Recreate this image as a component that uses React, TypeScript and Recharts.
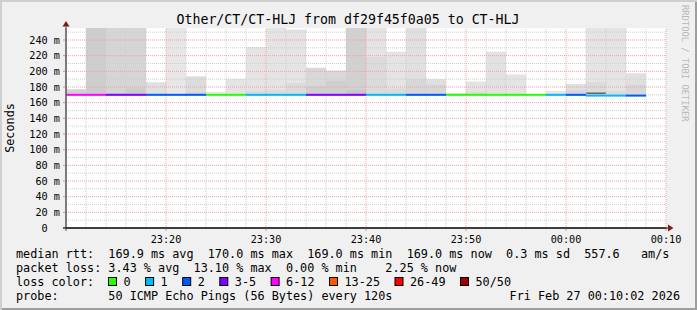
import React from "react";
import {
  ComposedChart,
  Bar,
  Cell,
  XAxis,
  YAxis,
  ReferenceLine,
  ReferenceArea,
  CartesianGrid,
} from "recharts";

// ---- data ----
const stepStart = [
  "23:10", "23:12", "23:14", "23:16", "23:18", "23:20", "23:22", "23:24", "23:26", "23:28",
  "23:30", "23:32", "23:34", "23:36", "23:38", "23:40", "23:42", "23:44", "23:46", "23:48",
  "23:50", "23:52", "23:54", "23:56", "23:58", "00:00", "00:02", "00:04", "00:06",
];
const axisEnd = "00:10";

// median rtt per step (ms)
const medianRtt = [
  170, 170, 170, 170, 170, 170, 170, 170, 170, 170,
  170, 170, 170, 170, 170, 170, 170, 170, 170, 170,
  170, 170, 170, 170, 170, 170, 169, 169, 169,
];
// packet loss per step (%)
const lossPct = [
  13.1, 12.5, 8.0, 6.0, 4.0, 3.5, 3.0, 0, 0, 2.0,
  1.5, 1.0, 8.0, 6.5, 9.0, 1.5, 2.0, 3.0, 2.5, 0,
  0, 0, 0, 0, 1.0, 3.0, 2.0, 1.0, 2.25,
];
// smoke: lowest / highest ping, top of dense inner band (ms)
const smokeMin = [
  169.5, 169.5, 169.5, 169.5, 169.5, 169.5, 169.5, 169.5, 169.5, 169.5,
  169.5, 169.5, 169.5, 169.5, 169.5, 169.5, 169.5, 169.5, 169.5, 169.5,
  169.5, 169.5, 169.5, 169.5, 168.5, 168.5, 168.5, 168.5, 168.5,
];
const smokeMax = [
  177, 300, 290, 285, 186, 270, 193.5, 174, 190.5, 231,
  262, 253.5, 204.5, 201, 295, 268, 225, 280, 190, 172.5,
  187, 225, 196, 170.3, 175, 184, 275, 265, 197.5,
];
const smokeInner: (number | null)[] = [
  null, null, 172, 178, null, null, 173, null, null, 175,
  176, 185, 181, 188, 176, 218, 178, 190, 183, null,
  174, null, null, null, null, 176, 186, 175, 183,
];
// relative density of the smoke (0..1) -> grey shade
const smokeDensity = [
  0.55, 0.6, 0.5, 0.5, 0.35, 0.25, 0.4, 0.25, 0.3, 0.3,
  0.3, 0.3, 0.45, 0.45, 0.55, 0.3, 0.3, 0.35, 0.35, 0.25,
  0.3, 0.32, 0.3, 0.3, 0.25, 0.35, 0.3, 0.3, 0.35,
];
// concentrated ping cluster
const coreLow: (number | null)[] = Array(29).fill(null).map((_, i) => (i === 26 ? 171 : null));
const coreHigh: (number | null)[] = Array(29).fill(null).map((_, i) => (i === 26 ? 173 : null));

const pingsPerStep = 50;
const xTickLabels = ["23:20", "23:30", "23:40", "23:50", "00:00", "00:10"];
const yTickValues = [0, 20, 40, 60, 80, 100, 120, 140, 160, 180, 200, 220, 240];
const yTickLabels = ["0", "20 m", "40 m", "60 m", "80 m", "100 m", "120 m", "140 m", "160 m", "180 m", "200 m", "220 m", "240 m"];
const yTop = 255.3;

const lossLabels = ["0", "1", "2", "3-5", "6-12", "13-25", "26-49", "50/50"];
const lossUpper = [0, 1, 2, 5, 12, 25, 49, 50];
const lossColors = ["#26ff00", "#00b8ff", "#0059ff", "#7e00ff", "#ff00ff", "#ff5500", "#ff0000", "#a10000"];

const title = "Other/CT/CT-HLJ from df29f45f0a05 to CT-HLJ";
const legendRtt = "median rtt:  169.9 ms avg  170.0 ms max  169.0 ms min  169.0 ms now  0.3 ms sd  557.6   am/s";
const legendLoss = "packet loss: 3.43 % avg  13.10 % max  0.00 % min    2.25 % now";
const legendLossColor = "loss color:";
const legendProbe = "probe:       50 ICMP Echo Pings (56 Bytes) every 120s";
const legendDate = "Fri Feb 27 00:10:02 2026";
const watermark = "RRDTOOL / TOBI OETIKER";
const unitLabel = "Seconds";

// ---- helpers ----
const toMin = (s: string) => {
  const [h, m] = s.split(":").map(Number);
  return h * 60 + m;
};
const origin = toMin(stepStart[0]);
const pos = (s: string) => (toMin(s) - origin + 1440) % 1440;
const step = pos(stepStart[1]) - pos(stepStart[0]);
const xEnd = pos(axisEnd);

const grey = (d: number) => {
  const v = Math.round(250 - 75 * Math.min(1, d));
  const h = v.toString(16).padStart(2, "0");
  return `#${h}${h}${h}`;
};
const lossColor = (pct: number) => {
  const n = (pct / 100) * pingsPerStep;
  const idx = lossUpper.findIndex((u) => n <= u);
  return lossColors[idx < 0 ? lossColors.length - 1 : idx];
};

const rows = stepStart.map((s, i) => ({
  t: pos(s) + step / 2,
  start: pos(s),
  end: pos(s) + step,
  lo: smokeMin[i],
  hi: smokeMax[i],
}));

const xTicks = xTickLabels.map(pos);
const xMinor: number[] = [];
for (let v = step; v < xEnd; v += step) if (!xTicks.includes(v)) xMinor.push(v);
const yMinor: number[] = [];
for (let v = 10; v < yTop; v += 20) yMinor.push(v);
const yMajor = yTickValues.filter((v) => v > 0);

const MONO = "'DejaVu Sans Mono', monospace";
const GRID_GREY = "#cdcdcd";
const GRID_RED = "#eba3a3";

export default function App() {
  // legend loss color layout
  let lx = 108;
  const lossItems = lossLabels.map((lab, i) => {
    const item = { lab, color: lossColors[i], bx: lx, tx: lx + 15.5 };
    lx = item.tx + 7.1 * lab.length + 14.5;
    return item;
  });

  return (
    <div
      style={{
        position: "absolute",
        left: 0,
        top: 0,
        width: 697,
        height: 310,
        background: "#f0f0f0",
        boxShadow: "inset 2px 2px 0 #cfcfcf, inset -2px -2px 0 #9e9e9e",
        overflow: "hidden",
      }}
    >
      <div style={{ position: "absolute", left: 0, top: 0 }}>
        <ComposedChart
          width={697}
          height={310}
          data={rows}
          margin={{ top: 28, right: 31, bottom: 62, left: 6 }}
          barCategoryGap={0}
          barGap={0}
        >
          <CartesianGrid horizontal={false} vertical={false} fill="#ffffff" stroke="none" />
          <XAxis
            dataKey="t"
            type="number"
            domain={[0, xEnd]}
            ticks={xTicks}
            interval={0}
            allowDataOverflow
            height={20}
            tickSize={3}
            tickMargin={5}
            axisLine={{ stroke: "#000000" }}
            tickLine={{ stroke: "#e08a8a" }}
            tick={{ fontFamily: MONO, fontSize: 10.2, fill: "#000" }}
            tickFormatter={(v: number) => xTickLabels[xTicks.indexOf(v)] ?? ""}
          />
          <YAxis
            type="number"
            domain={[0, yTop]}
            ticks={yTickValues}
            interval={0}
            allowDataOverflow
            width={60}
            tickSize={3}
            tickMargin={3}
            axisLine={{ stroke: "#555555" }}
            tickLine={{ stroke: "#e08a8a" }}
            tick={{ fontFamily: MONO, fontSize: 10.2, fill: "#000" }}
            tickFormatter={(v: number) => {
              const l = yTickLabels[yTickValues.indexOf(v)] ?? "";
              return l.includes(" ") ? l : l + "\u00a0\u00a0";
            }}
          />
          <Bar dataKey={(d: any) => [d.lo, d.hi]} isAnimationActive={false} zIndex={300}>
            {rows.map((_, i) => (
              <Cell key={i} fill={grey(smokeDensity[i])} />
            ))}
          </Bar>
          {rows.map((r, i) =>
            smokeInner[i] != null ? (
              <ReferenceArea
                key={"in" + i}
                x1={r.start}
                x2={r.end}
                y1={smokeMin[i]}
                y2={smokeInner[i] as number}
                fill={grey(smokeDensity[i] + 0.12)}
                fillOpacity={1}
                stroke="none"
                zIndex={310}
              />
            ) : null
          )}
          {rows.map((r, i) =>
            coreLow[i] != null ? (
              <ReferenceArea
                key={"core" + i}
                x1={r.start}
                x2={r.end}
                y1={coreLow[i] as number}
                y2={coreHigh[i] as number}
                fill="#666666"
                fillOpacity={1}
                stroke="none"
                zIndex={311}
              />
            ) : null
          )}
          {yMinor.map((v) => (
            <ReferenceLine key={"ym" + v} y={v} stroke={GRID_GREY} strokeDasharray="1 1" zIndex={320} />
          ))}
          {xMinor.map((v) => (
            <ReferenceLine key={"xm" + v} x={v} stroke={GRID_GREY} strokeDasharray="1 1" zIndex={320} />
          ))}
          {yMajor.map((v) => (
            <ReferenceLine key={"yM" + v} y={v} stroke={GRID_RED} strokeDasharray="1 1" zIndex={321} />
          ))}
          {xTicks.map((v) => (
            <ReferenceLine key={"xM" + v} x={v} stroke={GRID_RED} strokeDasharray="1 1" zIndex={321} />
          ))}
          {rows.map((r, i) => (
            <ReferenceLine
              key={"med" + i}
              segment={[
                { x: r.start, y: medianRtt[i] },
                { x: r.end, y: medianRtt[i] },
              ]}
              stroke={lossColor(lossPct[i])}
              strokeWidth={2}
              zIndex={330}
            />
          ))}
        </ComposedChart>
      </div>
      <svg
        width={697}
        height={310}
        style={{ position: "absolute", left: 0, top: 0, pointerEvents: "none" }}
        fontFamily={MONO}
      >
        <text x={348} y={24} textAnchor="middle" fontSize={13.25} fill="#000">
          {title}
        </text>
        <text
          x={684}
          y={5}
          fontSize={8.8}
          fill="#b8b8b8"
          transform="rotate(90 684 5)"
          dominantBaseline="middle"
        >
          {watermark}
        </text>
        <text
          x={14}
          y={128}
          fontSize={11.8}
          fill="#000"
          textAnchor="middle"
          transform="rotate(-90 14 128)"
        >
          {unitLabel}
        </text>
        {/* axis extensions and arrows */}
        <line x1={66} y1={231} x2={66} y2={24} stroke="#555555" strokeWidth={1} />
        <line x1={63} y1={228} x2={669} y2={228} stroke="#000000" strokeWidth={1} />
        <polygon points="62.5,26.5 69.5,26.5 66,21" fill="#7f1b1b" />
        <polygon points="668,224.5 668,231.5 673.5,228" fill="#7f1b1b" />
        <g fontSize={11.8} fill="#000">
          <text x={16} y={258} xmlSpace="preserve" style={{ whiteSpace: "pre" }}>
            {legendRtt}
          </text>
          <text x={16} y={272} xmlSpace="preserve" style={{ whiteSpace: "pre" }}>
            {legendLoss}
          </text>
          <text x={16} y={286} xmlSpace="preserve" style={{ whiteSpace: "pre" }}>
            {legendLossColor}
          </text>
          {lossItems.map((it) => (
            <g key={it.lab}>
              <rect x={it.bx + 0.5} y={277.5} width={8} height={8} fill={it.color} stroke="#000" strokeWidth={1} />
              <text x={it.tx} y={286}>
                {it.lab}
              </text>
            </g>
          ))}
          <text x={16} y={300} xmlSpace="preserve" style={{ whiteSpace: "pre" }}>
            {legendProbe}
          </text>
          <text x={680} y={300} textAnchor="end">
            {legendDate}
          </text>
        </g>
      </svg>
    </div>
  );
}
